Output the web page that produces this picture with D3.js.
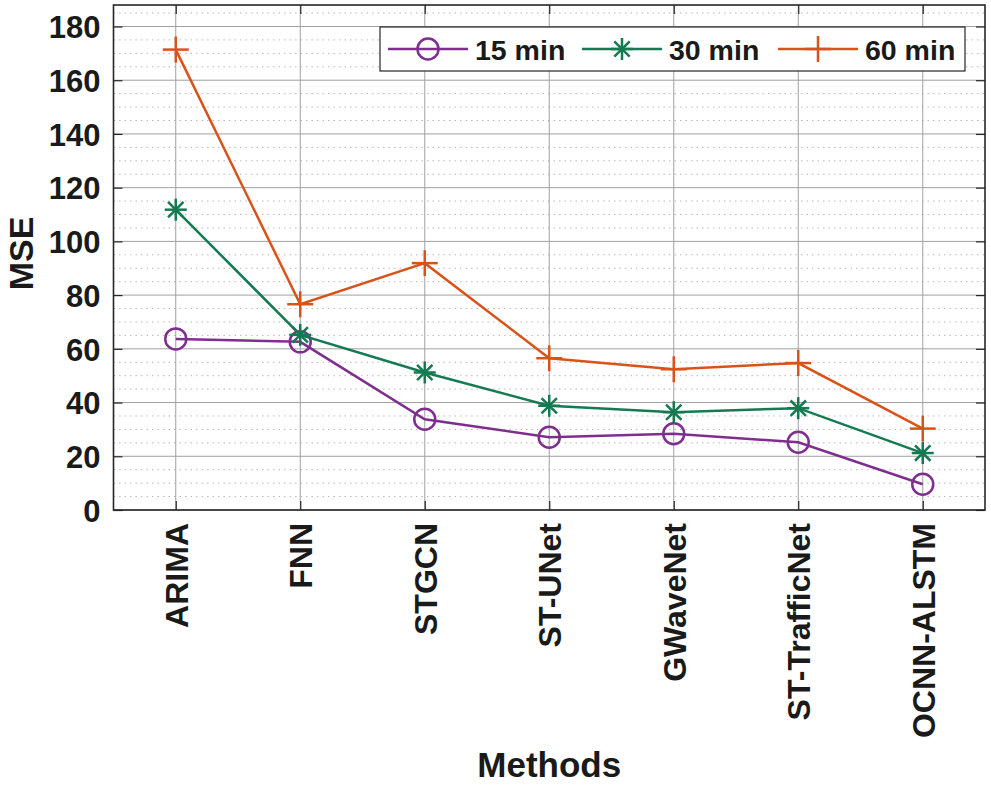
<!DOCTYPE html>
<html>
<head>
<meta charset="utf-8">
<script src="https://cdn.jsdelivr.net/npm/d3@7"></script>
<style>
  body { margin: 0; background: #fff; }
  text { font-family: "Liberation Sans", Arial, sans-serif; font-weight: bold; fill: #1a1a1a; }
</style>
</head>
<body>
<svg id="chart" width="991" height="785"></svg>
<script>
var methods = ["ARIMA", "FNN", "STGCN", "ST-UNet", "GWaveNet", "ST-TrafficNet", "OCNN-ALSTM"];
var mse15 = [63.7, 62.6, 33.8, 27.1, 28.4, 25.2, 9.6];
var mse30 = [111.8, 65.2, 51.2, 38.8, 36.4, 37.9, 21.2];
var mse60 = [171.4, 76.6, 91.9, 56.5, 52.4, 54.7, 30.3];
var seriesNames = ["15 min", "30 min", "60 min"];
var yTicks = [0, 20, 40, 60, 80, 100, 120, 140, 160, 180];

var svg = d3.select("#chart");
var MARGINS = { top: 5, right: 6, bottom: 275, left: 113.5 };
var WIDTH = 991, HEIGHT = 785;

var xRange = d3.scaleLinear().domain([0.5, methods.length + 0.5])
  .range([MARGINS.left, WIDTH - MARGINS.right]);
var yRange = d3.scaleLinear().domain([0, 188])
  .range([HEIGHT - MARGINS.bottom, MARGINS.top]);

var x0 = xRange.range()[0], x1 = xRange.range()[1];
var y0 = yRange.range()[0], y1 = yRange.range()[1];

// minor dotted grid
var minor = d3.range(5, 188, 5).filter(function (v) { return v % 20 !== 0; });
svg.append("g").selectAll("line").data(minor).join("line")
  .attr("x1", x0).attr("x2", x1)
  .attr("y1", function (d) { return yRange(d); }).attr("y2", function (d) { return yRange(d); })
  .attr("stroke", "#b8b8b8").attr("stroke-width", 1).attr("stroke-dasharray", "1.5,4");

// major grid
svg.append("g").selectAll("line").data(yTicks).join("line")
  .attr("x1", x0).attr("x2", x1)
  .attr("y1", function (d) { return yRange(d); }).attr("y2", function (d) { return yRange(d); })
  .attr("stroke", "#a0a0a0").attr("stroke-width", 1);
svg.append("g").selectAll("line").data(d3.range(1, methods.length + 1)).join("line")
  .attr("y1", y0).attr("y2", y1)
  .attr("x1", function (d) { return xRange(d); }).attr("x2", function (d) { return xRange(d); })
  .attr("stroke", "#a0a0a0").attr("stroke-width", 1);

// axes with inward ticks
var yAxis = d3.axisLeft(yRange).tickValues(yTicks).tickSizeInner(-9).tickSizeOuter(0).tickPadding(13);
var gy = svg.append("g").attr("transform", "translate(" + x0 + ",0)").call(yAxis);
gy.selectAll("text").style("font-size", "31px").attr("dy", "0.36em");
var yAxisR = d3.axisRight(yRange).tickValues(yTicks).tickSizeInner(-9).tickSizeOuter(0).tickFormat("");
svg.append("g").attr("transform", "translate(" + x1 + ",0)").call(yAxisR);

var xAxis = d3.axisBottom(xRange).tickValues(d3.range(1, methods.length + 1))
  .tickSizeInner(-9).tickSizeOuter(0).tickFormat("");
svg.append("g").attr("transform", "translate(0," + y0 + ")").call(xAxis);
var xAxisT = d3.axisTop(xRange).tickValues(d3.range(1, methods.length + 1))
  .tickSizeInner(-9).tickSizeOuter(0).tickFormat("");
svg.append("g").attr("transform", "translate(0," + y1 + ")").call(xAxisT);
svg.selectAll(".domain").remove();
svg.selectAll(".tick line").attr("stroke", "#262626").attr("stroke-width", 1.2);

svg.append("rect").attr("x", x0).attr("y", y1).attr("width", x1 - x0).attr("height", y0 - y1)
  .attr("fill", "none").attr("stroke", "#262626").attr("stroke-width", 1.6);

// x tick labels rotated
svg.append("g").selectAll("text").data(methods).join("text")
  .attr("transform", function (d, i) { return "translate(" + (xRange(i + 1) + 12) + "," + (y0 + 13) + ") rotate(-90)"; })
  .attr("text-anchor", "end")
  .style("font-size", "32px")
  .text(function (d) { return d; });

svg.append("text").attr("x", (x0 + x1) / 2).attr("y", 777)
  .attr("text-anchor", "middle").style("font-size", "35px").text("Methods");
svg.append("text").attr("transform", "translate(33," + ((y0 + y1) / 2 - 4) + ") rotate(-90)")
  .attr("text-anchor", "middle").style("font-size", "34px").text("MSE");

// series
var colors = ["#7E2F8E", "#157A52", "#D95319"];
var allSeries = [mse15, mse30, mse60];
var lineFunc = d3.line()
  .x(function (d, i) { return xRange(i + 1); })
  .y(function (d) { return yRange(d); });

function drawMarker(g, kind, cx, cy, color) {
  if (kind === 0) {
    g.append("circle").attr("cx", cx).attr("cy", cy).attr("r", 10.5)
      .attr("fill", "none").attr("stroke", color).attr("stroke-width", 2.5);
  } else if (kind === 1) {
    var s = 11;
    [[0, -s, 0, s], [-s, 0, s, 0], [-s * 0.7, -s * 0.7, s * 0.7, s * 0.7], [-s * 0.7, s * 0.7, s * 0.7, -s * 0.7]].forEach(function (l) {
      g.append("line").attr("x1", cx + l[0]).attr("y1", cy + l[1]).attr("x2", cx + l[2]).attr("y2", cy + l[3])
        .attr("stroke", color).attr("stroke-width", 2.5);
    });
  } else {
    var p = 13;
    [[0, -p, 0, p], [-p, 0, p, 0]].forEach(function (l) {
      g.append("line").attr("x1", cx + l[0]).attr("y1", cy + l[1]).attr("x2", cx + l[2]).attr("y2", cy + l[3])
        .attr("stroke", color).attr("stroke-width", 2.5);
    });
  }
}

allSeries.forEach(function (vals, k) {
  svg.append("path").attr("d", lineFunc(vals))
    .attr("stroke", colors[k]).attr("stroke-width", 2.5).attr("fill", "none");
  var g = svg.append("g");
  vals.forEach(function (v, i) { drawMarker(g, k, xRange(i + 1), yRange(v), colors[k]); });
});

// legend
var leg = svg.append("g");
leg.append("rect").attr("x", 380).attr("y", 27).attr("width", 585).attr("height", 44)
  .attr("fill", "#fff").attr("stroke", "#262626").attr("stroke-width", 1.2);
var legX = [388, 582, 778];
seriesNames.forEach(function (name, k) {
  var lx = legX[k];
  leg.append("line").attr("x1", lx).attr("x2", lx + 80).attr("y1", 49).attr("y2", 49)
    .attr("stroke", colors[k]).attr("stroke-width", 2.5);
  drawMarker(leg, k, lx + 40, 49, colors[k]);
  leg.append("text").attr("x", lx + 87).attr("y", 60).style("font-size", "28.5px").text(name);
});
</script>
</body>
</html>
